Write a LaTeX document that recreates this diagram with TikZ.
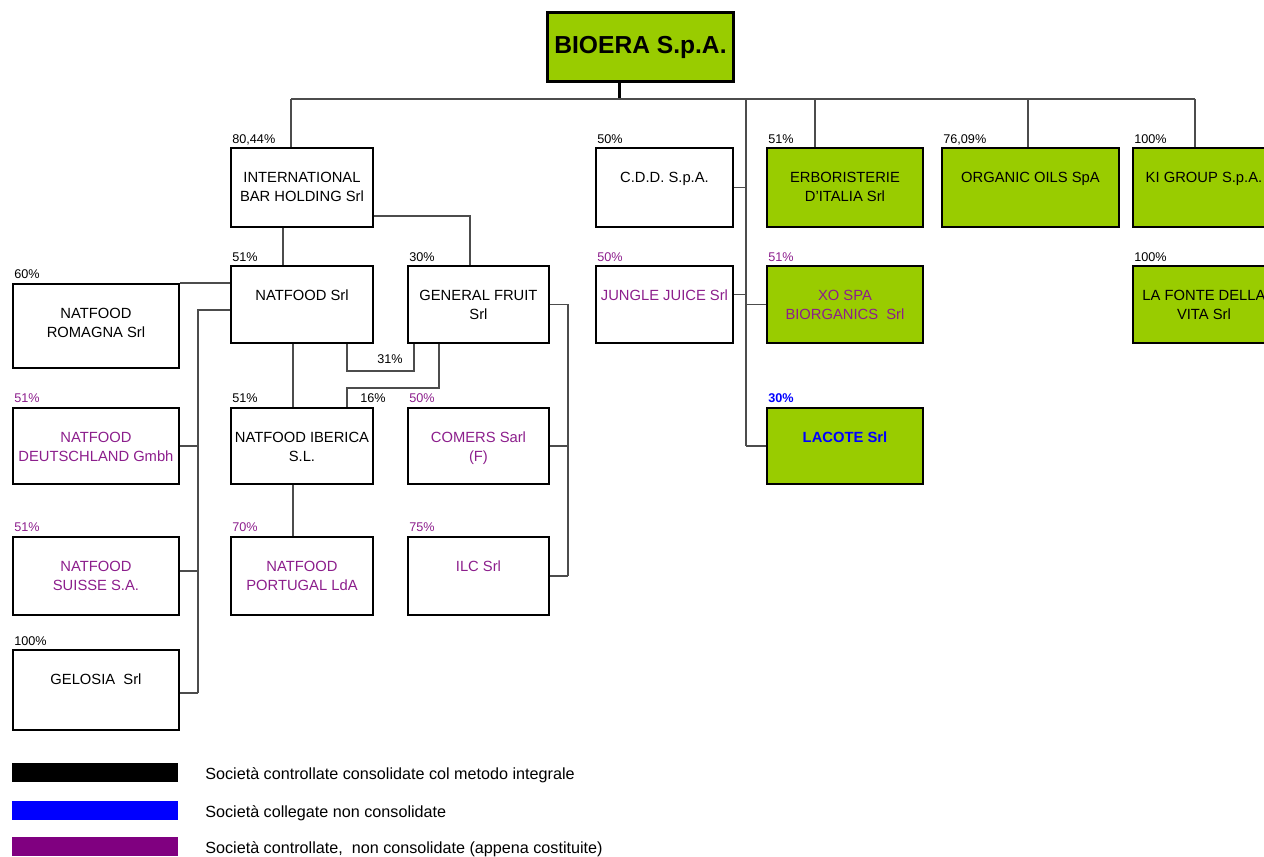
\documentclass[tikz,border=0pt]{standalone}
\usepackage{fontspec}
\setmainfont{Liberation Sans}
\usetikzlibrary{calc}
\definecolor{bgreen}{RGB}{153,204,0}
\definecolor{vpurple}{RGB}{128,0,128}
\definecolor{tpurple}{RGB}{140,30,140}
\tikzset{
  box/.style 2 args={draw, line width=1.1pt, inner sep=0pt, anchor=north west, align=flush center,
    text width=#1, text height=6.9mm, text depth=#2, font=\fontsize{8.4}{11}\selectfont},
  ctrl/.style={fill=bgreen},
  pct/.style={anchor=base west, inner sep=0pt, font=\fontsize{7.2}{9}\selectfont},
  conn/.style={draw=black!70, line width=0.7pt},
}

\begin{document}
\begin{tikzpicture}[x=0.2mm, y=-0.2mm]
\useasboundingbox (0,0) rectangle (1264,857);

\node (bio) [draw, line width=1.7pt, ctrl, anchor=north west, minimum width=37.2mm, minimum height=13.8mm,
  inner sep=0pt, font=\bfseries\fontsize{14}{16}\selectfont] at (546,11) {BIOERA S.p.A.};

\node (ibh) [box={28.4mm}{8.9mm}] at (230,147) {INTERNATIONAL\\BAR HOLDING Srl};
\node (cdd) [box={27.4mm}{8.9mm}] at (595,147) {C.D.D. S.p.A.};
\node (erb) [box={31.2mm}{8.9mm}, ctrl] at (766,147) {ERBORISTERIE\\D'ITALIA Srl};
\node (oil) [box={35.4mm}{8.9mm}, ctrl] at (941,147) {ORGANIC OILS SpA};
\node (ki) [box={28.4mm}{8.9mm}, ctrl] at (1132,147) {KI GROUP S.p.A.};
\node (nf) [box={28.4mm}{8.5mm}] at (230,265) {NATFOOD Srl};
\node (gf) [box={28.2mm}{8.5mm}] at (407,265) {GENERAL FRUIT\\Srl};
\node (jj) [box={27.4mm}{8.5mm}, text=tpurple] at (595,265) {JUNGLE JUICE Srl};
\node (xo) [box={31.2mm}{8.5mm}, ctrl, text=tpurple] at (766,265) {XO SPA\\BIORGANICS\ \ Srl};
\node (lf) [box={28.4mm}{8.5mm}, ctrl] at (1132,265) {LA FONTE DELLA\\VITA Srl};
\node (rom) [box={33.2mm}{9.9mm}] at (12,283) {NATFOOD\\ROMAGNA Srl};
\node (deu) [box={33.2mm}{8.3mm}, text=tpurple] at (12,407) {NATFOOD\\DEUTSCHLAND Gmbh};
\node (ibe) [box={28.4mm}{8.3mm}] at (230,407) {NATFOOD IBERICA\\S.L.};
\node (com) [box={28.2mm}{8.3mm}, text=tpurple] at (407,407) {COMERS Sarl\\(F)};
\node (lac) [box={31.2mm}{8.3mm}, ctrl, text=blue, font=\bfseries\fontsize{8.4}{11}\selectfont] at (766,407) {LACOTE Srl};
\node (sui) [box={33.2mm}{8.7mm}, text=tpurple] at (12,536) {NATFOOD\\SUISSE S.A.};
\node (por) [box={28.4mm}{8.7mm}, text=tpurple] at (230,536) {NATFOOD\\PORTUGAL LdA};
\node (ilc) [box={28.2mm}{8.7mm}, text=tpurple] at (407,536) {ILC Srl};
\node (gel) [box={33.2mm}{9.1mm}] at (12,649) {GELOSIA\ \ Srl};

\foreach \p/\x/\y/\c [count=\i] in {{80,44\%}/232/143/black, 50\%/597/143/black, 51\%/768/143/black,
    {76,09\%}/943/143/black, 100\%/1134/143/black, 51\%/232/261/black, 30\%/409/261/black,
    60\%/14/278/black, 50\%/597/261/tpurple, 51\%/768/261/tpurple, 100\%/1134/261/black,
    51\%/14/402/tpurple, 51\%/232/402/black, 16\%/360/402/black, 50\%/409/402/tpurple,
    51\%/14/531/tpurple, 70\%/232/531/tpurple, 75\%/409/531/tpurple, 100\%/14/645/black,
    31\%/377/363/black}
  \node (pc\i) [pct, text=\c] at (\x,\y) {\p};
\node (pc30) [pct, text=blue, font=\bfseries\fontsize{7.2}{9}\selectfont] at (768,402) {30\%};

\coordinate (busl) at (291,99);
\coordinate (busr) at (1195,99);
\coordinate (vm) at (746,99);
\coordinate (lbt) at (198,310);
\coordinate (lbb) at (198,693);
\coordinate (rbt) at (568,304);

\draw[line width=1.7pt] ([xshift=-4.2mm]bio.south) -- ([xshift=-4.2mm]bio.south |- busl);
\draw[conn] (busl) -- (busr);
\draw[conn] (busl) -- (busl |- ibh.north);
\draw[conn] ([xshift=-6mm]erb.north |- busl) -- ([xshift=-6mm]erb.north);
\draw[conn] ([xshift=-0.5mm]oil.north |- busl) -- ([xshift=-0.5mm]oil.north);
\draw[conn] (busr) -- (busr |- ki.north);
\draw[conn] (vm) -- (vm |- lac.west);
\draw[conn] (cdd.east) -- (cdd.east -| vm);
\draw[conn] ([yshift=2mm]jj.east) -- ([yshift=2mm]jj.east -| vm);
\draw[conn] (xo.west) -- (xo.west -| vm);
\draw[conn] (lac.west) -- (lac.west -| vm);
\draw[conn] ([xshift=-3.8mm]ibh.south) -- ([xshift=-3.8mm]nf.north);
\draw[conn] ([yshift=-5.7mm]ibh.east) -| ([xshift=-1.7mm]gf.north);
\draw[conn] (rom.north east) -- (rom.north east -| nf.west);
\draw[conn] (nf.west |- lbt) -- (lbt) -- (lbb);
\draw[conn] (deu.east) -- (deu.east -| lbt);
\draw[conn] ([yshift=1mm]sui.east) -- ([yshift=1mm]sui.east -| lbt);
\draw[conn] ([yshift=-0.6mm]gel.east) -- ([yshift=-0.6mm]gel.east -| lbt);
\draw[conn] ([xshift=-1.8mm]nf.south) -- ([xshift=-1.8mm]ibe.north);
\draw[conn] ([xshift=-1.8mm]ibe.south) -- ([xshift=-1.8mm]por.north);
\draw[conn] ([xshift=-5.4mm]nf.south east) -- ++(0,27) -| ([xshift=1.4mm]gf.south west);
\draw[conn] ([xshift=6.4mm]gf.south west) -- ++(0,44) -| ([xshift=-5.4mm]ibe.north east);
\draw[conn] (gf.east) -- (gf.east -| rbt) -- (rbt |- ilc.east);
\draw[conn] (com.east) -- (com.east -| rbt);
\draw[conn] (ilc.east) -- (ilc.east -| rbt);

\foreach \c/\y/\t [count=\i] in {black/763/{Società controllate consolidate col metodo integrale},
    blue/801/{Società collegate non consolidate},
    vpurple/837/{Società controllate,\ \ non consolidate (appena costituite)}} {
  \node (bar\i) [fill=\c, anchor=north west, minimum width=33.2mm, minimum height=3.8mm, inner sep=0pt] at (12,\y) {};
  \node (lg\i) [anchor=base west, inner sep=0pt, font=\fontsize{9.2}{11}\selectfont] at (205,\y+16) {\t};
}
\end{tikzpicture}
\end{document}
